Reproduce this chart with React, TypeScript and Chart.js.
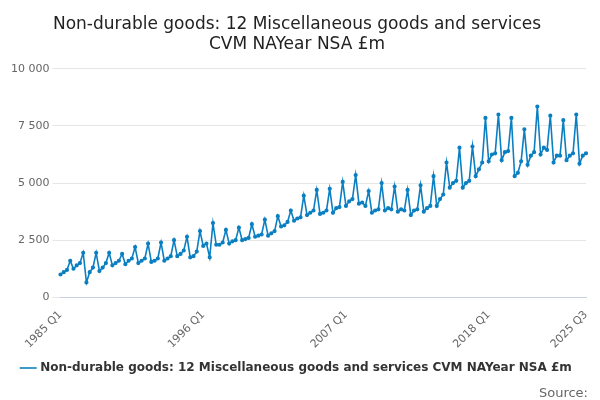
import React, { useEffect, useRef } from "react";
import { Chart, registerables } from "chart.js";
Chart.register(...registerables);

const years: number[] = [];
for (let y = 1985; y <= 2025; y++) years.push(y);
const labels: string[] = [];
years.forEach((y) => [1, 2, 3, 4].forEach((q) => { if (!(y === 2025 && q > 3)) labels.push(`${y} Q${q}`); }));

const values = [
  1000, 1100, 1200, 1600,
  1250, 1400, 1500, 1950,
  650, 1100, 1300, 1950,
  1150, 1300, 1500, 1950,
  1400, 1500, 1600, 1900,
  1450, 1600, 1700, 2200,
  1500, 1600, 1700, 2350,
  1550, 1600, 1700, 2400,
  1600, 1700, 1800, 2500,
  1800, 1900, 2050, 2650,
  1750, 1800, 2000, 2900,
  2250, 2350, 1750, 3250,
  2300, 2300, 2400, 2950,
  2350, 2450, 2500, 3050,
  2500, 2550, 2600, 3200,
  2650, 2700, 2750, 3400,
  2700, 2800, 2900, 3550,
  3100, 3150, 3300, 3800,
  3350, 3450, 3500, 4450,
  3600, 3700, 3800, 4700,
  3650, 3700, 3800, 4750,
  3700, 3900, 3950, 5050,
  4000, 4200, 4300, 5350,
  4100, 4150, 4000, 4650,
  3700, 3800, 3850, 5000,
  3800, 3900, 3850, 4850,
  3750, 3850, 3800, 4700,
  3600, 3800, 3850, 4900,
  3750, 3900, 4000, 5300,
  4000, 4300, 4500, 5900,
  4800, 5000, 5100, 6550,
  4800, 5000, 5100, 6600,
  5300, 5600, 5900, 7850,
  5950, 6250, 6300, 8000,
  6000, 6350, 6400, 7850,
  5300, 5450, 5950, 7350,
  5800, 6200, 6350, 8350,
  6250, 6550, 6450, 7950,
  5900, 6200, 6200, 7750,
  6000, 6200, 6300, 8000,
  5850, 6200, 6300,
];

const tickIdx = [0, 44, 88, 132, 162];
const legendLabel = "Non-durable goods: 12 Miscellaneous goods and services CVM NAYear NSA £m";

export default function App() {
  const ref = useRef<HTMLCanvasElement>(null);
  useEffect(() => {
    const chart = new Chart(ref.current!, {
      type: "line",
      data: {
        labels,
        datasets: [{
          label: legendLabel,
          data: values,
          borderColor: "#0a7fc1",
          backgroundColor: "#0a7fc1",
          borderWidth: 1.6,
          pointRadius: 1.3,
          pointHoverRadius: 2,
          tension: 0,
        }],
      },
      options: {
        animation: false,
        responsive: false,
        layout: { padding: { left: 0, right: 14, top: 0, bottom: 16 } },
        plugins: {
          title: {
            display: true,
            text: ["Non-durable goods: 12 Miscellaneous goods and services", "CVM NAYear NSA £m"],
            color: "#222",
            font: { family: "DejaVu Sans", size: 17, weight: "normal" },
            padding: { top: 6, bottom: 14 },
          },
          legend: {
            position: "bottom",
            labels: {
              color: "#333",
              font: { family: "DejaVu Sans", size: 12, weight: "bold" },
              usePointStyle: true,
              pointStyle: "line",
              boxWidth: 20,
              padding: 8,
            },
          },
          tooltip: { enabled: false },
        },
        scales: {
          x: {
            grid: { display: false, drawTicks: true },
            border: { color: "#c8cfe0" },
            ticks: {
              autoSkip: false,
              maxRotation: 45,
              minRotation: 45,
              color: "#666",
              font: { family: "DejaVu Sans", size: 11 },
              callback: (_v, i) => (tickIdx.includes(i) ? labels[i] : null),
            },
          },
          y: {
            min: 0,
            max: 10000,
            grid: { color: "#e6e6e6" },
            border: { display: false },
            ticks: {
              stepSize: 2500,
              color: "#666",
              font: { family: "DejaVu Sans", size: 11 },
              callback: (v) => String(v).replace(/\B(?=(\d{3})+(?!\d))/g, " "),
            },
          },
        },
      },
      plugins: [{
        id: "source",
        afterDraw(c) {
          const ctx = c.ctx;
          ctx.save();
          ctx.font = "13px 'DejaVu Sans'";
          ctx.fillStyle = "#666";
          ctx.textAlign = "right";
          ctx.fillText("Source:", 580, 386);
          ctx.restore();
        },
      }],
    });
    return () => chart.destroy();
  }, []);
  return <canvas ref={ref} width={592} height={392} style={{ display: "block" }} />;
}
